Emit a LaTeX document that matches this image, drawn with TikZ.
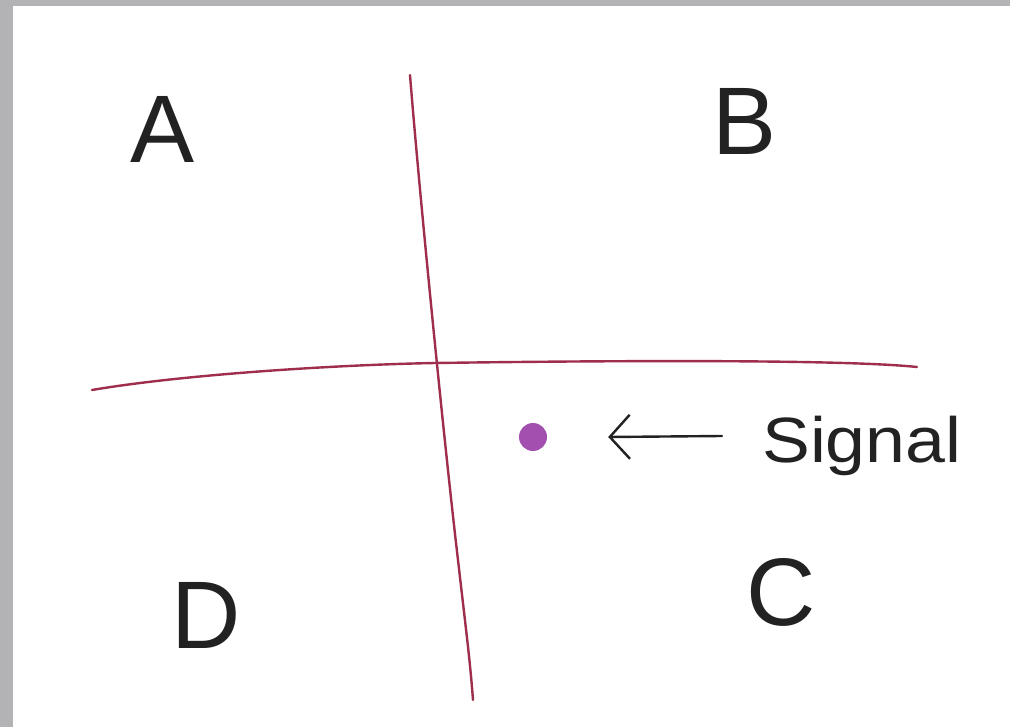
\documentclass[tikz,border=0pt]{standalone}
\usepackage{fontspec}
\setmainfont{Liberation Sans}
\usetikzlibrary{arrows.meta}
\definecolor{frame}{HTML}{B3B3B5}
\definecolor{axis}{HTML}{9E2E4C}
\definecolor{ink}{HTML}{222222}
\definecolor{blob}{HTML}{A24FB0}
\begin{document}
\begin{tikzpicture}[x=1pt,y=-1pt,
  axisline/.style={draw=axis,line width=2.4pt,line cap=round},
  letter/.style={text=ink,font=\fontsize{96}{96}\selectfont,inner sep=0pt},
  sig/.style={text=ink,font=\fontsize{64}{64}\selectfont,inner sep=0pt},
  pointer/.style={draw=ink,line width=2.4pt,line cap=round,
    -{Straight Barb[length=20pt,width=44pt,line width=2.4pt]}}]
\useasboundingbox (0,0) rectangle (1010,727);
\fill[frame] (0,0) rectangle (1010,727);
\fill[white] (13,6) rectangle (1010,727);
% axes
\coordinate (vt) at (410,75);
\coordinate (vb) at (473,700);
\coordinate (hl) at (92,390);
\coordinate (hr) at (917,367);
\draw[axisline] (vt) .. controls (420,200) and (445,450) .. (458,560) .. controls (466,630) and (470,660) .. (vb);
\draw[axisline] (hl) .. controls (180,375) and (330,365) .. (435,363) .. controls (650,360) and (850,360) .. (hr);
% quadrant labels
\node[letter] (A) at (163,129) {A};
\node[letter] (B) at (745,121) {B};
\node[letter] (D) at (206,615) {D};
\node[letter] (C) at (781,592) {C};
% signal
\node[circle,fill=blob,minimum size=28pt,inner sep=0pt] (dot) at (533,437) {};
\node[sig,anchor=base west,xscale=1.12,transform shape] (signal) at (762,462) {Signal};
\coordinate (shaft) at (722,436);
\draw[pointer] (shaft) -- ([xshift=61pt]dot.east);
\end{tikzpicture}
\end{document}
